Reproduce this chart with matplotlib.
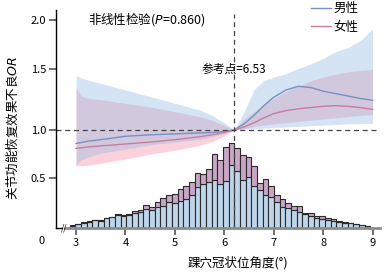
import numpy as np
import matplotlib
matplotlib.use('Agg')
import matplotlib.pyplot as plt

plt.rcParams['font.family'] = ['Noto Sans CJK SC', 'DejaVu Sans']
plt.rcParams['mathtext.fontset'] = 'dejavusans'
plt.rcParams['axes.unicode_minus'] = False

#------------- Data -------------#
ref_x = 6.2          # where the curves meet (drawn position of the reference line)
ref_label = '参考点=6.53'
p_text = '非线性检验($P$=0.860)'

x = [3.0, 3.1, 3.25, 3.5, 4.0, 4.5, 5.0, 5.5, 5.75, 6.0, 6.2, 6.4, 6.6, 6.8,
     7.0, 7.25, 7.5, 7.75, 8.0, 8.25, 8.5, 8.75, 9.0]

male_or = [0.86, 0.87, 0.885, 0.90, 0.935, 0.95, 0.96, 0.97, 0.975, 0.985, 1.0, 1.05, 1.12,
           1.20, 1.27, 1.33, 1.36, 1.35, 1.32, 1.30, 1.28, 1.26, 1.245]
male_hi = [1.445, 1.43, 1.41, 1.385, 1.33, 1.275, 1.22, 1.165, 1.12, 1.06, 1.0, 1.15, 1.33,
           1.41, 1.435, 1.465, 1.51, 1.555, 1.61, 1.68, 1.72, 1.79, 1.91]
male_lo = [0.64, 0.69, 0.72, 0.76, 0.80, 0.845, 0.875, 0.90, 0.93, 0.96, 1.0, 1.005, 1.01,
           1.015, 1.02, 1.025, 1.03, 1.035, 1.04, 1.045, 1.05, 1.052, 1.055]

female_or = [0.81, 0.815, 0.825, 0.835, 0.855, 0.875, 0.90, 0.93, 0.95, 0.975, 1.0, 1.025,
             1.06, 1.10, 1.135, 1.16, 1.175, 1.185, 1.195, 1.20, 1.195, 1.185, 1.17]
female_hi = [1.35, 1.28, 1.26, 1.25, 1.22, 1.19, 1.15, 1.11, 1.08, 1.04, 1.0, 1.09, 1.15,
             1.21, 1.26, 1.32, 1.36, 1.405, 1.435, 1.46, 1.48, 1.49, 1.50]
female_lo = [0.63, 0.63, 0.635, 0.655, 0.70, 0.75, 0.79, 0.84, 0.88, 0.94, 1.0, 1.01, 1.03,
             1.04, 1.05, 1.06, 1.07, 1.08, 1.09, 1.10, 1.11, 1.12, 1.125]

# histogram of the angle, 53 bins
bin_start = 2.872
bin_width = 0.1148
male_count = [2.7, 4, 5.7, 6.7, 8, 7.7, 9.7, 10.7, 12.7, 12, 13, 15, 16.3, 19.3, 18, 20.7,
              22, 26.3, 25, 26.7, 29.3, 32.7, 41, 43.7, 46, 47.7, 43.7, 47, 62.5, 57, 48,
              50.5, 41.5, 38, 33, 30.5, 26, 21.5, 20, 18, 16, 14, 12, 10, 9, 8, 7, 6.7,
              5.7, 5, 4, 3, 2]
female_count = [0.6, 0.7, 0.3, 0.3, 0.7, 0.6, 0.3, 0.6, 1.0, 1.0, 1.0, 2.3, 2.0, 3.4, 2.7,
                5.3, 8, 7, 9.3, 12, 12.4, 13.3, 13.7, 9.6, 12.3, 25.6, 24, 33, 21.5, 22,
                25, 20, 20.5, 7, 16, 11.5, 7, 7.5, 5.5, 4.5, 6, 1, 3, 2, 3, 2, 2, 0.3,
                0.3, 0.7, 0.3, 0.3, 0.3]

y_ticks = [0.5, 1.0, 1.5, 2.0]
x_ticks = [3, 4, 5, 6, 7, 8, 9]

# the OR axis in the picture is not evenly spaced: pin the ticks where they sit
OR_KNOTS = [0.0, 0.5, 1.0, 1.5, 2.0, 2.1]
PX_KNOTS = [0.0, 50.0, 98.3, 159.0, 208.3, 218.3]


def fwd(v):
    return np.interp(v, OR_KNOTS, PX_KNOTS)


def inv(h):
    return np.interp(h, PX_KNOTS, OR_KNOTS)


#------------- Plotting -------------#
W, H = 391, 274
fig = plt.figure(figsize=(W / 100, H / 100), dpi=100)
ax = fig.add_axes([56 / W, 1 - 228.3 / H, (380 - 56) / W, (228.3 - 10) / H])
ax.set_yscale('function', functions=(fwd, inv))
ax.set_xlim(2.595, 9.15)
ax.set_ylim(0, 2.1)

# histogram on its own count axis
axh = ax.twinx()
axh.set_ylim(0, 216)
axh.axis('off')
edges = bin_start + bin_width * np.arange(len(male_count))
axh.bar(edges, male_count, width=bin_width, align='edge', color='#bed5ea',
        edgecolor='#2a2a2a', linewidth=0.8, zorder=1)
axh.bar(edges, female_count, bottom=male_count, width=bin_width, align='edge',
        color='#c9a6c5', edgecolor='#2a2a2a', linewidth=0.8, zorder=1)
ax.set_zorder(axh.get_zorder() + 1)
ax.patch.set_visible(False)

# confidence bands (pink first, blue over it gives the lavender overlap)
ax.fill_between(x, female_lo, female_hi, color='#f58aa2', alpha=0.38, linewidth=0)
ax.fill_between(x, male_lo, male_hi, color='#91b9e4', alpha=0.38, linewidth=0)
ax.plot(x, male_or, color='#7590c4', lw=1.0, label='男性')
ax.plot(x, female_or, color='#c97ca2', lw=1.0, label='女性')

ax.axhline(1.0, color='#444444', lw=0.9, ls=(0, (4, 3)))
ax.axvline(ref_x, ymax=0.98, color='#444444', lw=0.9, ls=(0, (4, 3)))

ax.text(ref_x, 1.5, ref_label, ha='center', va='center', fontsize=8.5)
ax.text(3.24, 2.01, p_text, ha='left', va='center', fontsize=9)

# axes decoration
for s in ['top', 'right']:
    ax.spines[s].set_visible(False)
ax.spines['left'].set_color('black')
ax.spines['left'].set_linewidth(1.0)
ax.spines['bottom'].set_color('#8c8c8c')
ax.spines['bottom'].set_linewidth(2.0)
ax.spines['bottom'].set_bounds(2.78, 9.15)
ax.plot([2.595, 2.72], [0, 0], color='black', lw=1.0, clip_on=False)
ax.text(2.755, 0.0, '//', ha='center', va='center', fontsize=6, clip_on=False)

ax.set_yticks(y_ticks)
ax.set_yticklabels([f'{t:.1f}' for t in y_ticks])
ax.set_xticks(x_ticks)
ax.set_xticklabels([str(t) for t in x_ticks])
ax.tick_params(axis='both', labelsize=8, length=5, width=1.2, color='#555555', pad=2)
ax.minorticks_off()
fig.text(42 / W, 1 - 241 / H, '0', ha='center', va='center', fontsize=8)

fig.text(12 / W, 1 - 128 / H, '关节功能恢复效果不良$OR$', rotation=90,
         ha='center', va='center', fontsize=9)
fig.text(238 / W, 1 - 263 / H, '踝穴冠状位角度(°)', ha='center', va='center', fontsize=9)

ax.legend(loc='upper left', bbox_to_anchor=(311 / W, 1 - 2 / H),
          bbox_transform=fig.transFigure, frameon=False, fontsize=9,
          handlelength=1.6, handletextpad=0.2, labelspacing=0.45,
          borderpad=0, borderaxespad=0)

fig.savefig('out.png', dpi=100)
